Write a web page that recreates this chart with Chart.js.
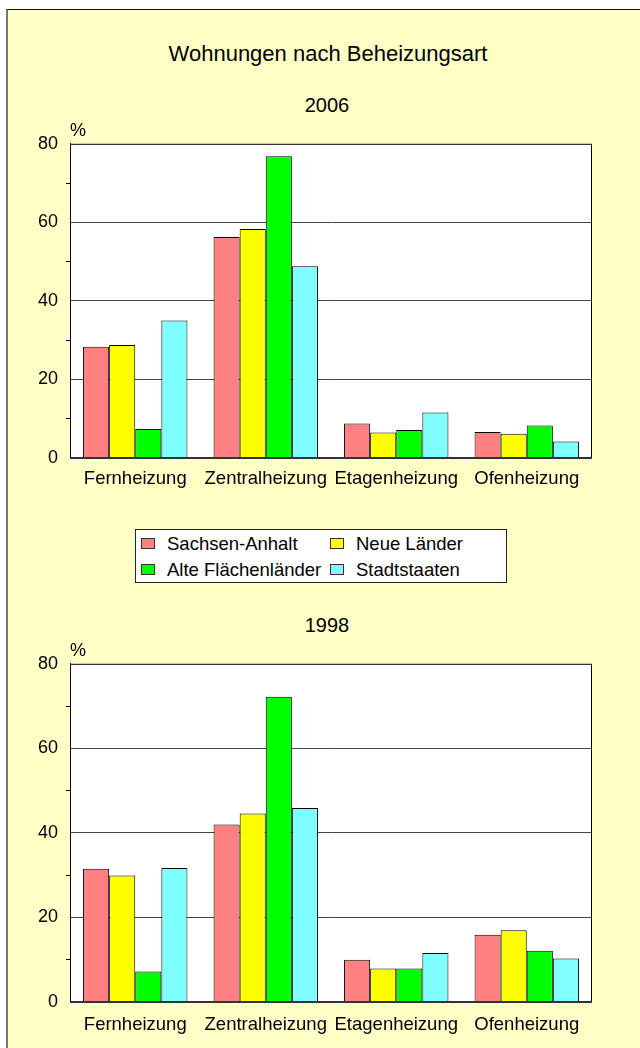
<!DOCTYPE html>
<html>
<head>
<meta charset="utf-8">
<script src="https://cdn.jsdelivr.net/npm/chart.js@4/dist/chart.umd.min.js"></script>
<style>
  html, body { margin: 0; padding: 0; background: #fff; width: 640px; height: 1048px; overflow: hidden; font-family: "Liberation Sans", Arial, sans-serif; }
  #frame { position: absolute; left: 6px; top: 9px; width: 700px; height: 1100px; background: #FFFFC6; border-top: 1px solid #111; border-left: 2px solid #777; }
  .txt { position: absolute; color: #000; white-space: nowrap; }
  #title { top: 41px; left: 0; width: 656px; text-align: center; font-size: 22px; }
  .year { left: 0; width: 654px; text-align: center; font-size: 20px; }
  .pct { left: 70px; font-size: 18px; z-index: 2; }
  .box { position: absolute; left: 0; width: 640px; }
  #legend { position: absolute; left: 135px; top: 529px; width: 372px; height: 54px; border: 1px solid #222; background: #fff; box-sizing: border-box; }
  .item { position: absolute; font-size: 18.5px; line-height: 20px; }
  .item i { display: inline-block; width: 12px; height: 9px; border: 1px solid #333; margin-right: 12px; vertical-align: 1px; }
</style>
</head>
<body>
<div id="frame"></div>
<div class="txt" id="title">Wohnungen nach Beheizungsart</div>
<div class="txt year" style="top:94px">2006</div>
<div class="box" style="top:125px;height:375px"><canvas id="c2006"></canvas></div>
<div class="txt pct" style="top:120px">%</div>
<div id="legend"></div>
<div class="txt year" style="top:614px">1998</div>
<div class="box" style="top:645px;height:401px"><canvas id="c1998"></canvas></div>
<div class="txt pct" style="top:640px">%</div>

<script>
const categories = ['Fernheizung', 'Zentralheizung', 'Etagenheizung', 'Ofenheizung'];
const seriesNames = ['Sachsen-Anhalt', 'Neue Länder', 'Alte Flächenländer', 'Stadtstaaten'];
const seriesColors = ['#FF8080', '#FFFF00', '#00FF00', '#80FFFF'];

// 2006, percent
const sa2006 = [28.3, 56.3, 8.8, 6.6];
const nl2006 = [28.8, 58.3, 6.5, 6.2];
const af2006 = [7.4, 76.8, 7.1, 8.3];
const st2006 = [35.0, 48.8, 11.6, 4.2];

// 1998, percent
const sa1998 = [31.5, 42.0, 10.0, 15.9];
const nl1998 = [29.9, 44.6, 7.9, 17.0];
const af1998 = [7.2, 72.2, 7.9, 12.1];
const st1998 = [31.7, 45.9, 11.6, 10.3];

const yMax = 80;
const yStep = 10;
const yLabelEvery = 20;

// white plot area with black frame
const plotFrame = {
  id: 'plotFrame',
  beforeDatasetsDraw(chart) {
    const { ctx, chartArea: a } = chart;
    ctx.save();
    ctx.globalCompositeOperation = 'destination-over';
    ctx.fillStyle = '#fff';
    ctx.fillRect(a.left, a.top, a.right - a.left, a.bottom - a.top);
    ctx.restore();
  },
  afterDraw(chart) {
    const { ctx, chartArea: a } = chart;
    ctx.save();
    ctx.strokeStyle = '#000';
    ctx.lineWidth = 1;
    ctx.strokeRect(a.left + 0.5, a.top + 0.5, a.right - a.left - 1, a.bottom - a.top);
    ctx.lineWidth = 2;
    ctx.strokeStyle = '#333';
    ctx.beginPath();
    ctx.moveTo(a.left, a.bottom);
    ctx.lineTo(a.right, a.bottom);
    ctx.stroke();
    ctx.restore();
  }
};

function makeChart(id, rows, xHeight, xPad) {
  const datasets = rows.map((d, i) => ({
    label: seriesNames[i],
    data: d,
    backgroundColor: seriesColors[i],
    borderColor: '#000',
    borderWidth: 1,
    categoryPercentage: 0.8,
    barPercentage: 1.0
  }));
  return new Chart(document.getElementById(id), {
    type: 'bar',
    data: { labels: categories, datasets },
    plugins: [plotFrame],
    options: {
      responsive: true,
      maintainAspectRatio: false,
      animation: false,
      layout: { padding: { top: 9, right: 48, left: 0, bottom: 0 } },
      plugins: { legend: { display: false }, tooltip: { enabled: false } },
      scales: {
        x: {
          grid: { display: false, drawTicks: false },
          border: { display: false },
          ticks: { color: '#000', font: { family: 'Liberation Sans', size: 18.5 }, padding: xPad, maxRotation: 0, autoSkip: false },
          afterFit: s => { s.height = xHeight; }
        },
        y: {
          min: 0, max: yMax,
          grid: {
            color: c => (c.tick && c.tick.value % yLabelEvery === 0 && c.tick.value > 0 && c.tick.value < yMax) ? '#444' : 'transparent',
            tickColor: c => (c.tick && c.tick.value % yLabelEvery !== 0) ? '#000' : 'transparent',
            tickLength: 4,
            lineWidth: 1
          },
          border: { display: true, color: '#000' },
          ticks: {
            stepSize: yStep,
            color: '#000',
            padding: 8,
            font: { family: 'Liberation Sans', size: 18 },
            callback: v => (v % yLabelEvery === 0 ? v : '')
          },
          afterFit: s => { s.width = 70; }
        }
      }
    }
  });
}

makeChart('c2006', [sa2006, nl2006, af2006, st2006], 42, 10);
makeChart('c1998', [sa1998, nl1998, af1998, st1998], 44, 12);

// legend from the series arrays
const legend = document.getElementById('legend');
const pos = [[5, 5], [194, 5], [5, 31], [194, 31]];
seriesNames.forEach((name, i) => {
  const el = document.createElement('div');
  el.className = 'item';
  el.style.left = pos[i][0] + 'px';
  el.style.top = (pos[i][1] - 1) + 'px';
  el.innerHTML = `<i style="background:${seriesColors[i]}"></i>${name}`;
  legend.appendChild(el);
});
</script>
</body>
</html>
